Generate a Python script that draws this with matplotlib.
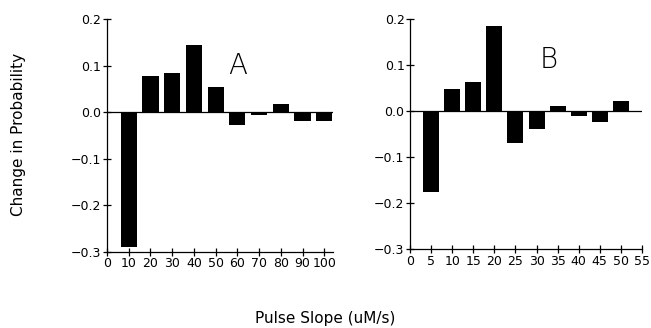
import matplotlib
matplotlib.use("Agg")
import matplotlib.pyplot as plt
import numpy as np

# panel A data
slope_a = [10, 20, 30, 40, 50, 60, 70, 80, 90, 100]
change_a = [-0.29, 0.078, 0.085, 0.145, 0.054, -0.027, -0.007, 0.017, -0.018, -0.018]
ticks_a = [0, 10, 20, 30, 40, 50, 60, 70, 80, 90, 100]

# panel B data
slope_b = [5, 10, 15, 20, 25, 30, 35, 40, 45, 50]
change_b = [-0.177, 0.047, 0.063, 0.185, -0.070, -0.040, 0.011, -0.011, -0.025, 0.022]
ticks_b = [0, 5, 10, 15, 20, 25, 30, 35, 40, 45, 50, 55]

yticks = [-0.3, -0.2, -0.1, 0.0, 0.1, 0.2]

plt.rcParams['font.family'] = ['DejaVu Sans']

fig = plt.figure(figsize=(6.51, 3.28), dpi=100)
ax_a = fig.add_axes([0.1644, 0.2326, 0.347, 0.709])
ax_b = fig.add_axes([0.630, 0.241, 0.356, 0.701])


def style_axis(ax, xticks, xmax):
    ax.set_ylim(-0.3, 0.2)
    ax.set_xlim(0, xmax)
    ax.set_yticks(yticks)
    ax.set_yticklabels([f"{t:.1f}".replace("-", "\u2212") for t in yticks])
    ax.set_xticks(xticks)
    ax.set_xticklabels([str(t) for t in xticks])
    for s in ["top", "right"]:
        ax.spines[s].set_visible(False)
    for s in ["left", "bottom"]:
        ax.spines[s].set_linewidth(0.9)
    ax.tick_params(axis="both", direction="inout", length=6, width=0.9, labelsize=9, pad=1)
    ax.axhline(0, color="black", lw=0.9)


ax_a.bar(slope_a, change_a, width=7.4, color="black")
style_axis(ax_a, ticks_a, 104)
ax_a.text(0.58, 0.80, "A", transform=ax_a.transAxes, fontsize=20, fontweight="light",
          ha="center", va="center")

ax_b.bar(slope_b, change_b, width=3.8, color="black")
style_axis(ax_b, ticks_b, 55)
ax_b.text(0.60, 0.82, "B", transform=ax_b.transAxes, fontsize=20, fontweight="light",
          ha="center", va="center")

fig.text(0.028, 0.59, "Change in Probability", rotation=90, ha="center", va="center", fontsize=11)
fig.text(0.50, 0.03, "Pulse Slope (uM/s)", ha="center", va="center", fontsize=11)

fig.savefig("out.png", dpi=100)
